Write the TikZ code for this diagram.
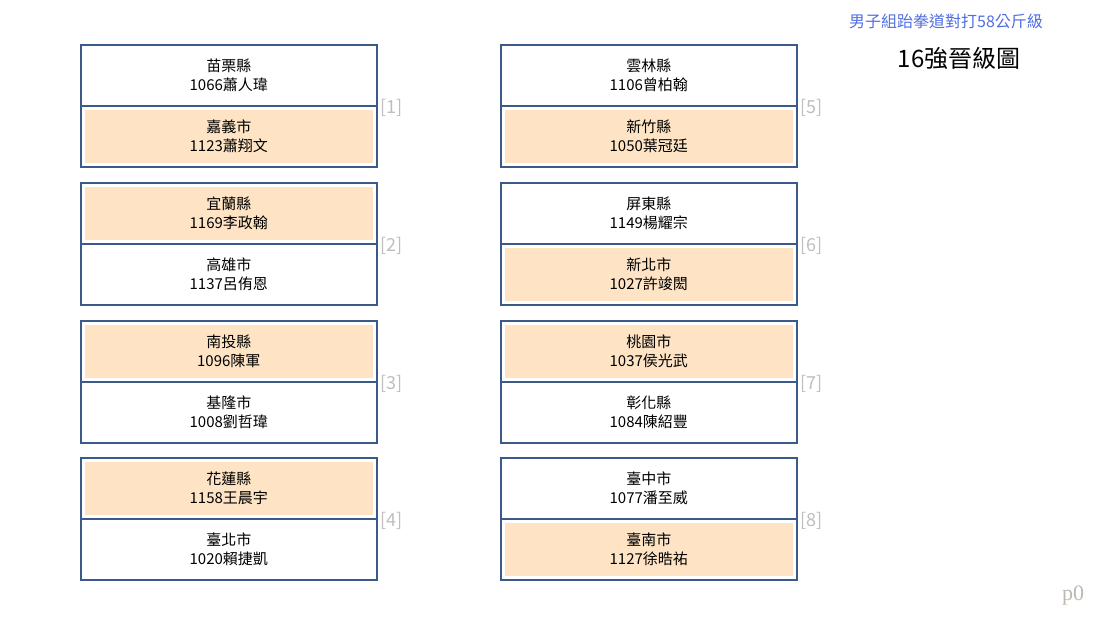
\documentclass[tikz,border=0pt]{standalone}
\usepackage{fontspec}
\setmainfont{Noto Sans CJK TC}
\newfontfamily\pfont{Liberation Serif}
\usepackage{tikz}
\definecolor{boxline}{RGB}{59,90,138}
\definecolor{winfill}{RGB}{254,228,196}
\definecolor{seedgray}{RGB}{190,190,190}
\definecolor{titleblue}{RGB}{80,110,225}
\newcommand{\w}{296pt}
\newcommand{\h}{61pt}

\begin{document}
\begin{tikzpicture}[x=1pt, y=-1pt,
    half/.style={draw=boxline, line width=1.6pt, rectangle, anchor=north west, minimum width=\w, minimum height=\h, inner sep=0pt, align=center, font=\fontsize{15}{19}\selectfont},
    winner/.style={half, path picture={\fill[winfill] ([xshift=4pt,yshift=-4pt]path picture bounding box.north west) rectangle ([xshift=-4pt,yshift=4pt]path picture bounding box.south east);}},
    seed/.style={anchor=west, inner sep=0pt, text=seedgray, font=\fontsize{18}{18}\selectfont}]
    \useasboundingbox (0,0) rectangle (1103,618);

    % Left column
    \node[half] (half-1-1) at (80,44) {苗栗縣\\1066蕭人瑋};
    \node[winner] (half-1-2) at (80,105) {嘉義市\\1123蕭翔文};
    \node[winner] (half-2-1) at (80,182) {宜蘭縣\\1169李政翰};
    \node[half] (half-2-2) at (80,243) {高雄市\\1137呂侑恩};
    \node[winner] (half-3-1) at (80,320) {南投縣\\1096陳軍};
    \node[half] (half-3-2) at (80,381) {基隆市\\1008劉哲瑋};
    \node[winner] (half-4-1) at (80,457) {花蓮縣\\1158王晨宇};
    \node[half] (half-4-2) at (80,518) {臺北市\\1020賴捷凱};

    % Right column
    \node[half] (half-5-1) at (500,44) {雲林縣\\1106曾柏翰};
    \node[winner] (half-5-2) at (500,105) {新竹縣\\1050葉冠廷};
    \node[half] (half-6-1) at (500,182) {屏東縣\\1149楊耀宗};
    \node[winner] (half-6-2) at (500,243) {新北市\\1027許竣閎};
    \node[winner] (half-7-1) at (500,320) {桃園市\\1037侯光武};
    \node[half] (half-7-2) at (500,381) {彰化縣\\1084陳紹豐};
    \node[half] (half-8-1) at (500,457) {臺中市\\1077潘至威};
    \node[winner] (half-8-2) at (500,518) {臺南市\\1127徐晧祐};

    % Match numbers
    \node[seed] (seed-1) at (half-1-1.south east) [xshift=3pt, yshift=-1pt] {[1]};
    \node[seed] (seed-2) at (half-2-1.south east) [xshift=3pt, yshift=-1pt] {[2]};
    \node[seed] (seed-3) at (half-3-1.south east) [xshift=3pt, yshift=-1pt] {[3]};
    \node[seed] (seed-4) at (half-4-1.south east) [xshift=3pt, yshift=-1pt] {[4]};
    \node[seed] (seed-5) at (half-5-1.south east) [xshift=3pt, yshift=-1pt] {[5]};
    \node[seed] (seed-6) at (half-6-1.south east) [xshift=3pt, yshift=-1pt] {[6]};
    \node[seed] (seed-7) at (half-7-1.south east) [xshift=3pt, yshift=-1pt] {[7]};
    \node[seed] (seed-8) at (half-8-1.south east) [xshift=3pt, yshift=-1pt] {[8]};

    % Titles
    \node[inner sep=0pt, text=titleblue, font=\fontsize{16}{16}\selectfont] (event) at (946,21) {男子組跆拳道對打58公斤級};
    \node[inner sep=0pt, font=\fontsize{24}{24}\selectfont] (stage) at (959,58) {16強晉級圖};
    \node[inner sep=0pt, text=seedgray!90!brown, font=\pfont\fontsize{22}{22}\selectfont] (page) at (1073,596) {p0};

\end{tikzpicture}
\end{document}
